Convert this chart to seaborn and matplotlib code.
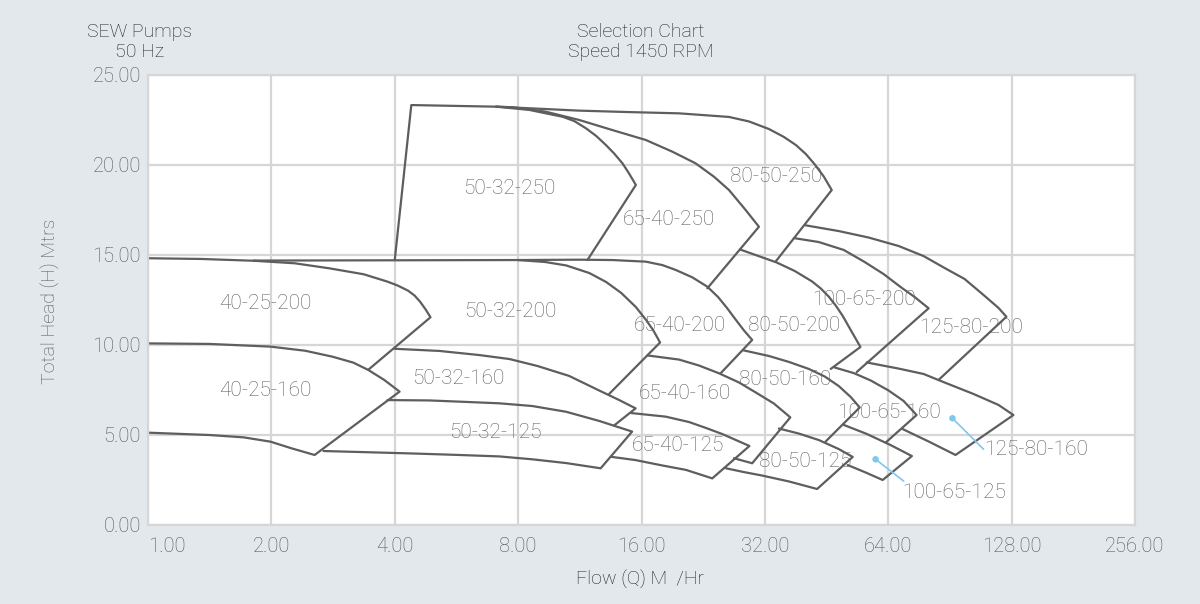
import matplotlib
matplotlib.use("Agg")
import matplotlib.pyplot as plt
from matplotlib.ticker import NullLocator
import pandas as pd
import seaborn as sns

# ---------------- data: pump selection envelopes (flow Q m3/hr, head H m) ----------------
q_40_25_200 = [1.00, 1.35, 1.81, 2.28, 2.77, 3.36, 3.84, 4.06, 4.31, 4.47, 4.61, 4.75, 4.89, 3.45]
h_40_25_200 = [14.82, 14.78, 14.68, 14.54, 14.26, 13.93, 13.52, 13.31, 13.02, 12.75, 12.41, 12.00, 11.54, 8.63]

q_40_25_160 = [1.00, 1.41, 1.99, 2.42, 2.82, 3.17, 3.45, 3.77, 4.11, 2.55, 2.24, 1.99, 1.71, 1.41, 1.00]
h_40_25_160 = [10.09, 10.06, 9.91, 9.68, 9.35, 9.02, 8.61, 8.06, 7.41, 3.89, 4.26, 4.63, 4.87, 5.00, 5.13]

q_50_32_250 = [4.00, 4.39, 7.07, 8.52, 10.27, 10.97, 11.71, 12.41, 13.10, 13.72, 14.38, 14.92, 15.50, 11.81]
h_50_32_250 = [14.72, 23.33, 23.24, 23.06, 22.68, 22.44, 22.04, 21.61, 21.11, 20.64, 20.09, 19.53, 18.89, 14.72]

q_65_40_250 = [7.07, 7.76, 9.35, 11.28, 13.59, 16.39, 19.03, 21.69, 24.04, 26.16, 28.72, 30.95, 23.16]
h_65_40_250 = [23.24, 23.21, 22.96, 22.50, 21.94, 21.39, 20.74, 20.09, 19.35, 18.61, 17.50, 16.57, 13.15]

q_80_50_250 = [7.07, 11.28, 14.92, 19.76, 26.16, 29.26, 32.73, 35.60, 38.09, 40.28, 42.36, 44.55, 46.59, 33.98]
h_80_50_250 = [23.24, 23.02, 22.94, 22.87, 22.67, 22.42, 22.00, 21.56, 21.11, 20.61, 20.03, 19.36, 18.61, 14.63]

q_50_32_200 = [1.81, 8.00, 9.32, 10.48, 11.93, 13.12, 14.28, 15.50, 16.42, 17.08, 17.76, 13.34]
h_50_32_200 = [14.69, 14.72, 14.61, 14.42, 14.00, 13.50, 12.89, 12.11, 11.39, 10.83, 10.14, 7.28]

q_65_40_200 = [8.00, 11.28, 13.59, 16.39, 17.99, 19.39, 21.28, 23.16, 24.59, 25.86, 27.20, 28.45, 29.80, 24.96]
h_65_40_200 = [14.72, 14.74, 14.72, 14.63, 14.44, 14.17, 13.76, 13.24, 12.67, 12.06, 11.39, 10.81, 10.28, 8.43]

q_80_50_200 = [27.81, 34.23, 37.86, 41.72, 43.81, 45.81, 47.66, 49.57, 51.84, 54.74, 46.33]
h_80_50_200 = [15.31, 14.58, 14.11, 13.53, 13.14, 12.69, 12.19, 11.61, 10.83, 9.89, 8.67]

q_100_65_200 = [37.66, 43.32, 49.84, 56.07, 62.37, 68.61, 74.19, 80.30, 53.61]
h_100_65_200 = [15.94, 15.72, 15.28, 14.61, 13.94, 13.22, 12.67, 12.04, 8.50]

q_125_80_200 = [40.20, 48.46, 57.33, 67.84, 78.07, 87.81, 98.24, 109.3, 118.9, 124.3, 84.92]
h_125_80_200 = [16.65, 16.33, 15.97, 15.50, 14.94, 14.28, 13.67, 12.78, 12.06, 11.57, 8.06]

q_50_32_160 = [4.00, 5.14, 6.44, 7.62, 8.93, 10.66, 12.62, 14.12, 15.48, 13.72]
h_50_32_160 = [9.79, 9.67, 9.44, 9.22, 8.83, 8.28, 7.47, 6.94, 6.48, 5.53]

q_50_32_125 = [3.84, 4.86, 6.09, 7.20, 8.66, 10.48, 12.62, 15.18, 12.72, 10.48, 8.66, 7.20, 5.75, 4.47, 3.47, 2.68]
h_50_32_125 = [6.94, 6.92, 6.83, 6.76, 6.61, 6.29, 5.78, 5.19, 3.15, 3.44, 3.65, 3.81, 3.89, 3.97, 4.04, 4.11]

q_65_40_160 = [16.54, 19.76, 22.10, 24.72, 27.66, 30.26, 33.66, 36.92, 29.80, 26.89]
h_65_40_160 = [9.42, 9.19, 8.86, 8.43, 7.92, 7.39, 6.75, 5.98, 3.43, 3.71]

q_65_40_125 = [15.10, 18.33, 20.90, 22.99, 25.15, 27.20, 29.34, 23.81, 20.55, 17.96, 15.44, 13.47]
h_65_40_125 = [6.22, 6.02, 5.72, 5.39, 5.06, 4.72, 4.39, 2.59, 3.06, 3.31, 3.61, 3.79]

q_80_50_160 = [28.29, 32.73, 36.62, 40.96, 44.80, 48.46, 51.84, 54.52, 44.98]
h_80_50_160 = [9.71, 9.39, 9.06, 8.67, 8.25, 7.72, 7.11, 6.53, 4.63]

q_80_50_125 = [34.62, 38.73, 43.32, 48.46, 52.42, 42.91, 36.62, 31.47, 28.45, 25.72]
h_80_50_125 = [5.36, 5.08, 4.72, 4.22, 3.78, 2.00, 2.42, 2.75, 2.94, 3.15]

q_100_65_160 = [47.39, 52.72, 57.99, 64.14, 69.77, 75.05, 63.08]
h_100_65_160 = [8.75, 8.44, 8.03, 7.47, 6.89, 6.11, 4.58]

q_100_65_125 = [49.84, 56.71, 64.86, 73.09, 62.03, 56.07, 50.97]
h_100_65_125 = [5.56, 5.06, 4.44, 3.83, 2.50, 2.94, 3.33]

q_125_80_160 = [56.71, 67.84, 78.07, 87.32, 103.3, 118.9, 129.3, 93.40, 80.30, 69.38]
h_125_80_160 = [9.03, 8.69, 8.39, 7.94, 7.28, 6.67, 6.11, 3.89, 4.64, 5.33]

# pointer lines for the two small envelopes (start dot -> label)
leader_pumps = ["125-80-160", "100-65-125"]
leader_q = [[91.8, 109.3], [59.6, 69.8]]
leader_h = [[5.93, 4.21], [3.65, 2.44]]

# envelope names and label anchors
pump_names = ["50-32-250", "65-40-250", "80-50-250",
              "40-25-200", "50-32-200", "65-40-200", "80-50-200", "100-65-200", "125-80-200",
              "40-25-160", "50-32-160", "65-40-160", "80-50-160", "100-65-160", "125-80-160",
              "50-32-125", "65-40-125", "80-50-125", "100-65-125"]
label_q = [7.62, 18.68, 34.13,
           1.93, 7.66, 19.85, 37.82, 55.76, 101.9,
           1.93, 5.73, 20.41, 35.94, 64.14, 109.9,
           7.06, 19.62, 40.20, 92.5]
label_h = [18.68, 16.98, 19.35,
           12.32, 11.85, 11.06, 11.06, 12.54, 10.98,
           7.46, 8.15, 7.28, 8.06, 6.24, 4.22,
           5.13, 4.39, 3.52, 1.82]

x_ticks = [1, 2, 4, 8, 16, 32, 64, 128, 256]
x_tick_labels = ["1.00", "2.00", "4.00", "8.00", "16.00", "32.00", "64.00", "128.00", "256.00"]
y_ticks = [0, 5, 10, 15, 20, 25]
y_tick_labels = ["0.00", "5.00", "10.00", "15.00", "20.00", "25.00"]

outlines = {
    "40-25-200": (q_40_25_200, h_40_25_200),
    "40-25-160": (q_40_25_160, h_40_25_160),
    "50-32-250": (q_50_32_250, h_50_32_250),
    "65-40-250": (q_65_40_250, h_65_40_250),
    "80-50-250": (q_80_50_250, h_80_50_250),
    "50-32-200": (q_50_32_200, h_50_32_200),
    "65-40-200": (q_65_40_200, h_65_40_200),
    "80-50-200": (q_80_50_200, h_80_50_200),
    "100-65-200": (q_100_65_200, h_100_65_200),
    "125-80-200": (q_125_80_200, h_125_80_200),
    "50-32-160": (q_50_32_160, h_50_32_160),
    "50-32-125": (q_50_32_125, h_50_32_125),
    "65-40-160": (q_65_40_160, h_65_40_160),
    "65-40-125": (q_65_40_125, h_65_40_125),
    "80-50-160": (q_80_50_160, h_80_50_160),
    "80-50-125": (q_80_50_125, h_80_50_125),
    "100-65-160": (q_100_65_160, h_100_65_160),
    "100-65-125": (q_100_65_125, h_100_65_125),
    "125-80-160": (q_125_80_160, h_125_80_160),
}

rows = []
for name, (qs, hs) in outlines.items():
    for i, (q, h) in enumerate(zip(qs, hs)):
        rows.append({"pump": name, "step": i, "Q": q, "H": h})
df = pd.DataFrame(rows)

lead_rows = []
for name, qs, hs in zip(leader_pumps, leader_q, leader_h):
    for i, (q, h) in enumerate(zip(qs, hs)):
        lead_rows.append({"pump": name, "step": i, "Q": q, "H": h})
df_lead = pd.DataFrame(lead_rows)

# ---------------- styling ----------------
BG = "#e2e8ec"
GRID = "#d6d6d6"
CURVE = "#5e5e5e"
LABEL = "#5e5e5e"
TICK = "#555555"
LEADER = "#7fc8ec"

sns.set_theme(style="white")
plt.rcParams["font.family"] = ["Roboto", "DejaVu Sans"]

fig = plt.figure(figsize=(12, 6.04), dpi=100, facecolor=BG)
ax = fig.add_axes([148 / 1200, 1 - 525 / 604, 987 / 1200, 450 / 604])
ax.set_facecolor("white")

ax.set_xscale("log", base=2)
ax.set_xlim(1, 256)
ax.set_ylim(0, 25)
ax.set_xticks(x_ticks)
ax.set_xticklabels(x_tick_labels)
ax.xaxis.set_minor_locator(NullLocator())
ax.set_yticks(y_ticks)
ax.set_yticklabels(y_tick_labels)
ax.get_xticklabels()[0].set_horizontalalignment("left")
for lab in ax.get_xticklabels() + ax.get_yticklabels():
    lab.set_fontweight("light")

ax.grid(True, color=GRID, linewidth=1.6)
ax.set_axisbelow(True)
for side in ax.spines.values():
    side.set_color(GRID)
    side.set_linewidth(1.6)
ax.tick_params(axis="both", length=0, labelsize=14.5, labelcolor=TICK)
ax.tick_params(axis="x", pad=9)
ax.tick_params(axis="y", pad=5)

# envelope outlines
sns.lineplot(data=df, x="Q", y="H", units="pump", estimator=None, sort=False,
             color=CURVE, linewidth=1.6, legend=False, ax=ax)

# pointer lines with start dots
sns.lineplot(data=df_lead, x="Q", y="H", units="pump", estimator=None, sort=False,
             color=LEADER, linewidth=1.2, legend=False, ax=ax)
sns.scatterplot(data=df_lead[df_lead["step"] == 0], x="Q", y="H", color=LEADER,
                s=22, edgecolor="none", legend=False, ax=ax, zorder=5)

for name, q, h in zip(pump_names, label_q, label_h):
    ax.text(q, h, name, ha="left" if name == "125-80-160" else "center", va="center",
            fontsize=15, color=LABEL, fontweight="light")

ax.set_xlabel("Flow (Q) M  /Hr", fontsize=14, color="#222222", fontweight="light")
ax.xaxis.set_label_coords(0.4985, -0.10)
ax.set_ylabel("Total Head (H) Mtrs", fontsize=14, color="#555555", fontweight="light")
ax.yaxis.set_label_coords(-0.089, 0.497)

for txt, xpix, ypix in [("SEW Pumps", 140, 32), ("50 Hz", 140, 52),
                        ("Selection Chart", 641, 32), ("Speed 1450 RPM", 641, 52)]:
    fig.text(xpix / 1200, 1 - ypix / 604, txt, ha="center", va="center",
             fontsize=14, color="#222222", fontweight="light")

fig.savefig("out.png", dpi=100, facecolor=BG)
